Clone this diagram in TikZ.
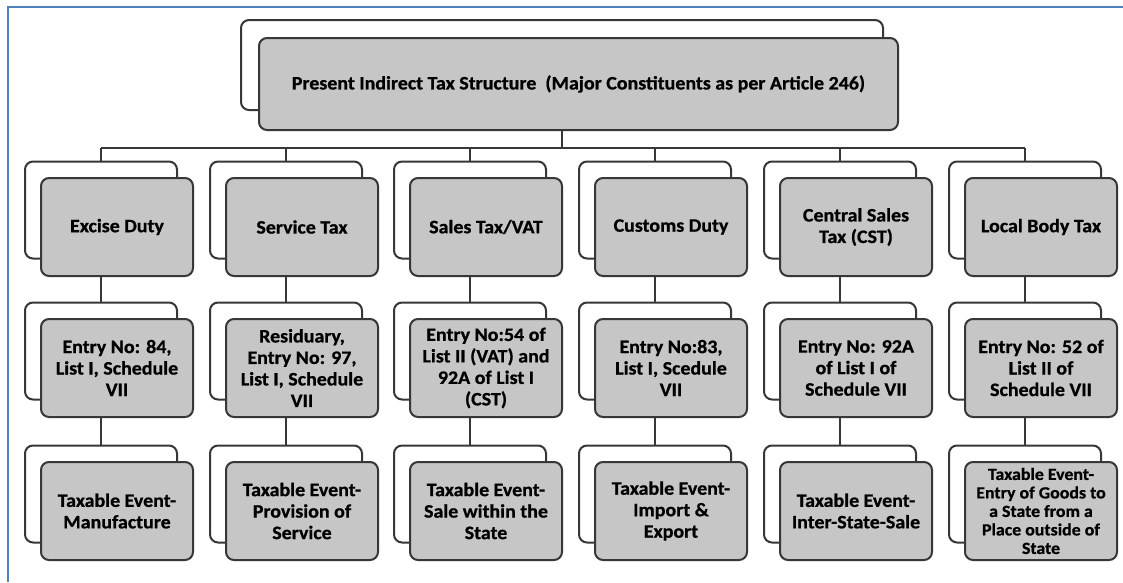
\documentclass[tikz,border=0pt]{standalone}
\usepackage{fontspec}
\setmainfont{Carlito}[FakeStretch=1.05, BoldFeatures={FakeBold=0.8}]
\definecolor{framecol}{RGB}{79,129,189}
\definecolor{boxgray}{RGB}{198,198,198}
\definecolor{edgecol}{RGB}{55,55,55}
\newcommand\taxcol[6]{%
  \node[backbox] (ba#1) at (#2,210) {};
  \node[frontbox] (fa#1) at (#2+16,227) {#3};
  \node[backbox] (bb#1) at (#2,351) {};
  \node[frontbox] (fb#1) at (#2+16,368) {#4};
  \node[backbox] (bc#1) at (#2,494) {};
  \node[frontbox,#6] (fc#1) at (#2+16,511) {#5};
  \draw[conn] (ba#1.north) -- (ba#1.north |- bus);
  \draw[conn] (bb#1.north) -- (bb#1.north |- fa#1.south);
  \draw[conn] (bc#1.north) -- (bc#1.north |- fb#1.south);
}
\begin{document}
\begin{tikzpicture}[x=1pt,y=-1pt,
  backbox/.style={draw=edgecol, line width=2pt, rounded corners=8pt, fill=white,
    minimum width=152pt, minimum height=97pt, inner sep=0pt},
  frontbox/.style={draw=edgecol, line width=2pt, rounded corners=8pt, fill=boxgray,
    minimum width=152pt, minimum height=98pt, inner sep=0pt, align=center,
    font=\fontsize{19}{21.5}\selectfont\bfseries},
  smalltext/.style={font=\fontsize{17}{18.5}\selectfont\bfseries},
  conn/.style={draw=edgecol, line width=2pt}]
\useasboundingbox (0,0) rectangle (1123,582);
\fill[white] (0,0) rectangle (1123,582);
\draw[framecol, line width=2.5pt] (8,582) -- (8,7) -- (1123,7);
\coordinate (bus) at (0,148);
\node[backbox, minimum width=642pt, minimum height=90pt] (topB) at (562,65) {};
\node[frontbox, minimum width=639pt, minimum height=92pt] (topF) at (578.5,84)
  {Present Indirect Tax Structure\ \ (Major Constituents as per Article 246)};
\taxcol{1}{101}{Excise Duty}{Entry No: 84,\\List I, Schedule\\VII}{Taxable Event-\\Manufacture}{}
\taxcol{2}{286}{Service Tax}{Residuary,\\Entry No: 97,\\List I, Schedule\\VII}{Taxable Event-\\Provision of\\Service}{}
\taxcol{3}{470}{Sales Tax/VAT}{Entry No:54 of\\List II (VAT) and\\92A of List I\\(CST)}{Taxable Event-\\Sale within the\\State}{}
\taxcol{4}{655}{Customs Duty}{Entry No:83,\\List I, Scedule\\VII}{Taxable Event-\\Import \&\\Export}{}
\taxcol{5}{840}{Central Sales\\Tax (CST)}{Entry No: 92A\\of List I of\\Schedule VII}{Taxable Event-\\Inter-State-Sale}{}
\taxcol{6}{1025}{Local Body Tax}{Entry No: 52 of\\List II of\\Schedule VII}{Taxable Event-\\Entry of Goods to\\a State from a\\Place outside of\\State}{smalltext}
\draw[conn] (ba1.north |- bus) -- (ba6.north |- bus);
\draw[conn] (topB.center |- topF.south) -- (topB.center |- bus);
\end{tikzpicture}
\end{document}
